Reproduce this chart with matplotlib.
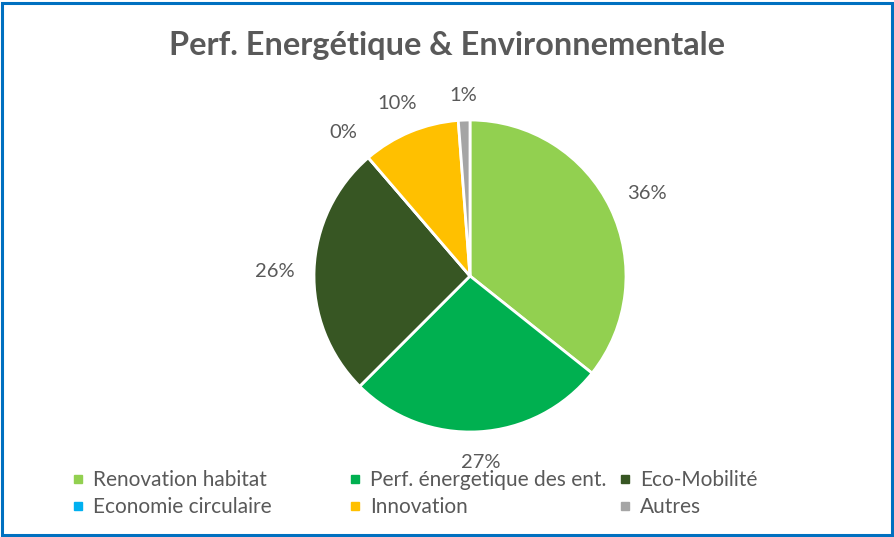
import numpy as np
import matplotlib.pyplot as plt
from matplotlib.lines import Line2D
from matplotlib.patches import Rectangle

# --- Data ---
categories = [
    "Renovation habitat",
    "Perf. énergetique des ent.",
    "Eco-Mobilité",
    "Economie circulaire",
    "Innovation",
    "Autres",
]
shares = [35.7, 26.8, 26.2, 0.0, 10.1, 1.2]
colors = ["#92D050", "#00B050", "#375623", "#00B0F0", "#FFC000", "#A5A5A5"]
title = "Perf. Energétique & Environnementale"

TEXT_GREY = "#595959"
plt.rcParams["font.family"] = ["Lato", "DejaVu Sans"]

fig = plt.figure(figsize=(8.95, 5.37), dpi=100)

# pie centred at (470, 276) px with radius ~156 px
W, H = 895, 537
cx, cy, r = 470, 276, 156
ax = fig.add_axes([(cx - r) / W, (H - cy - r) / H, 2 * r / W, 2 * r / H])

wedges, texts, autotexts = ax.pie(
    shares,
    colors=colors,
    startangle=90,
    counterclock=False,
    autopct=lambda p: f"{p:.0f}%",
    wedgeprops=dict(edgecolor="white", linewidth=2),
    textprops=dict(color=TEXT_GREY, fontsize=14.5),
)
ax.set_xlim(-1, 1)
ax.set_ylim(-1, 1)

# "outside end" labels: keep the text box edge at a fixed gap from the rim
half_w, half_h = 20 / r, 8 / r
for w, t in zip(wedges, autotexts):
    ang = np.deg2rad((w.theta1 + w.theta2) / 2)
    dx, dy = np.cos(ang), np.sin(ang)
    dist = 1.12 + abs(dx) * half_w + abs(dy) * half_h
    t.set_position((dist * dx, dist * dy - 0.02))
    t.set_ha("center")
    t.set_va("center")

fig.text(0.5, 1 - 45 / H, title, ha="center", va="center",
         fontsize=23.4, fontweight="bold", color=TEXT_GREY)

# legend: three columns, two rows
col_x = [72, 349, 619]
for c, x in enumerate(col_x):
    idx = [c, c + 3]
    handles = [Line2D([], [], marker="s", linestyle="none", markersize=6,
                      color=colors[i]) for i in idx]
    leg = fig.legend(handles, [categories[i] for i in idx],
                     loc="upper left", bbox_to_anchor=(x / W, 1 - 470 / H),
                     frameon=False, fontsize=15, labelcolor=TEXT_GREY,
                     handlelength=0.55, handletextpad=0.45, labelspacing=0.35,
                     borderpad=0, borderaxespad=0)

fig.add_artist(Rectangle((0.0025, 0.004), 0.994, 0.991, transform=fig.transFigure,
                         fill=False, edgecolor="#0070C0", linewidth=2.2))

fig.savefig("out.png", dpi=100)
